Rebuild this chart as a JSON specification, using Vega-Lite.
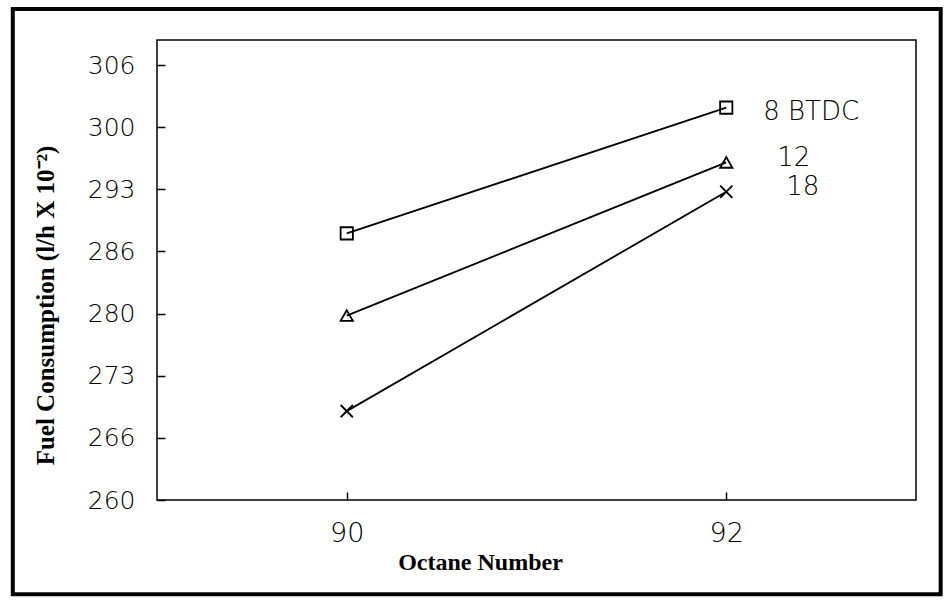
{
  "$schema": "https://vega.github.io/schema/vega-lite/v6.json",
  "width": 759,
  "height": 460,
  "autosize": {"type": "none"},
  "padding": {"left": 157, "top": 40, "right": 31, "bottom": 102},
  "background": "white",
  "config": {
    "view": {"stroke": "black", "strokeWidth": 1.5},
    "axis": {
      "grid": false,
      "domain": false,
      "tickColor": "black",
      "tickWidth": 1.5,
      "tickSize": 8,
      "offset": -8,
      "labelColor": "black",
      "titleColor": "black",
      "labelFont": "DejaVu Sans",
      "labelFontWeight": 300,
      "titleFont": "Liberation Serif",
      "titleFontWeight": "bold"
    }
  },
  "datasets": {
    "fuel": [
      {"octane": 90, "consumption": 288.2, "timing": "8 BTDC"},
      {"octane": 92, "consumption": 301.5, "timing": "8 BTDC"},
      {"octane": 90, "consumption": 279.5, "timing": "12"},
      {"octane": 92, "consumption": 295.7, "timing": "12"},
      {"octane": 90, "consumption": 269.4, "timing": "18"},
      {"octane": 92, "consumption": 292.6, "timing": "18"}
    ],
    "frame": [{}]
  },
  "layer": [
    {
      "data": {"name": "frame"},
      "mark": {"type": "rect", "fill": "transparent", "stroke": "black", "strokeWidth": 4},
      "encoding": {
        "x": {"datum": 88.24, "type": "quantitative", "scale": {"domain": [89, 93]}},
        "x2": {"datum": 93.13},
        "y": {"datum": 311.93, "type": "quantitative", "scale": {"domain": [260, 308.65]}},
        "y2": {"datum": 250.04}
      }
    },
    {
      "data": {"name": "fuel"},
      "layer": [
        {
          "mark": {"type": "line", "color": "black", "strokeWidth": 1.8},
          "encoding": {
            "detail": {"field": "timing", "type": "nominal"}
          }
        },
        {
          "mark": {"type": "point", "filled": false, "stroke": "black", "strokeWidth": 1.8, "size": 150, "opacity": 1},
          "encoding": {
            "shape": {
              "field": "timing",
              "type": "nominal",
              "scale": {
                "domain": ["8 BTDC", "12", "18"],
                "range": ["square", "triangle-up", "M-1,-1L1,1M-1,1L1,-1"]
              },
              "legend": null
            }
          }
        },
        {
          "transform": [{"filter": "datum.octane == 92 && datum.timing == '8 BTDC'"}],
          "mark": {"type": "text", "align": "left", "baseline": "middle", "dx": 37, "dy": 4, "font": "DejaVu Sans", "fontWeight": 300, "fontSize": 26, "color": "black"},
          "encoding": {"text": {"field": "timing"}}
        },
        {
          "transform": [{"filter": "datum.octane == 92 && datum.timing == '12'"}],
          "mark": {"type": "text", "align": "left", "baseline": "middle", "dx": 51, "dy": -4, "font": "DejaVu Sans", "fontWeight": 300, "fontSize": 26, "color": "black"},
          "encoding": {"text": {"field": "timing"}}
        },
        {
          "transform": [{"filter": "datum.octane == 92 && datum.timing == '18'"}],
          "mark": {"type": "text", "align": "left", "baseline": "middle", "dx": 60, "dy": -5, "font": "DejaVu Sans", "fontWeight": 300, "fontSize": 26, "color": "black"},
          "encoding": {"text": {"field": "timing"}}
        }
      ],
      "encoding": {
        "x": {
          "field": "octane",
          "type": "quantitative",
          "scale": {"domain": [89, 93]},
          "axis": {
            "title": "Octane Number",
            "values": [90, 92],
            "format": "d",
            "labelPadding": 20,
            "labelFontSize": 27,
            "titleFontSize": 24,
            "titleX": 323,
            "titleY": 70,
            "titleBaseline": "middle",
            "titleAlign": "center"
          }
        },
        "y": {
          "field": "consumption",
          "type": "quantitative",
          "scale": {"domain": [260, 308.65]},
          "axis": {
            "title": "Fuel Consumption (l/h X 10⁻²)",
            "values": [260, 263.2857, 266.5714, 269.8571, 273.1429, 276.4286, 279.7143, 283, 286.2857, 289.5714, 292.8571, 296.1429, 299.4286, 302.7143, 306],
            "labelExpr": "round((datum.value - 260) / (23 / 7)) % 2 == 0 ? ['260','266','273','280','286','293','300','306'][round((datum.value - 260) / (46 / 7))] : ''",
            "labelPadding": 22,
            "labelFontSize": 25,
            "titleFontSize": 25,
            "titleX": -120,
            "titleY": 265,
            "titleBaseline": "middle",
            "titleAlign": "center"
          }
        }
      }
    }
  ]
}
